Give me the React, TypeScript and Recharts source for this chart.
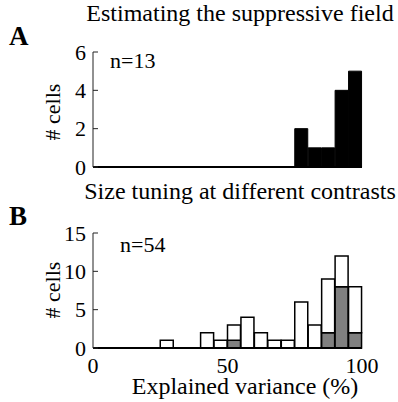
import { BarChart, Bar, XAxis, YAxis } from "recharts"

const bins = [0, 5, 10, 15, 20, 25, 30, 35, 40, 45, 50, 55, 60, 65, 70, 75, 80, 85, 90, 95]
// panel A: suppressive field fits
const countsA = [0, 0, 0, 0, 0, 0, 0, 0, 0, 0, 0, 0, 0, 0, 0, 2, 1, 1, 4, 5]
// panel B: all contrasts (total) and the gray subset
const totalB = [0, 0, 0, 0, 0, 1, 0, 0, 2, 1, 3, 4, 2, 1, 1, 6, 3, 9, 12, 8]
const grayB = [0, 0, 0, 0, 0, 0, 0, 0, 0, 0, 1, 0, 0, 0, 0, 0, 0, 2, 8, 2]
const ticksA = [0, 2, 4, 6]
const ticksB = [0, 5, 10, 15]
const ticksX = [0, 50, 100]

const dataA = bins.map((x, i) => ({ x, n: countsA[i] }))
const dataB = bins.map((x, i) => ({ x, gray: grayB[i], white: totalB[i] - grayB[i] }))

const FONT = "'Liberation Serif', 'Times New Roman', serif"

function YTick(props: any) {
  const { x, y, payload } = props
  return (
    <g>
      <line x1={x} x2={x + 5} y1={y} y2={y} stroke="#222" strokeWidth={1} />
      <text x={x - 7} y={y} textAnchor="end" dominantBaseline="central" style={{ fontFamily: FONT, fontSize: 22 }} fill="#000">
        {payload.value}
      </text>
    </g>
  )
}

function XTick(props: any) {
  const { x, y, payload } = props
  return (
    <text x={x} y={y + 9} textAnchor="middle" dominantBaseline="central" style={{ fontFamily: FONT, fontSize: 22 }} fill="#000">
      {payload.value}
    </text>
  )
}

export default function App() {
  return (
    <div style={{ position: "fixed", left: 0, top: 0, width: 398, height: 402, overflow: "hidden", background: "#fff", fontFamily: FONT }}>
      <div style={{ position: "absolute", left: 0, top: 0 }}>
        <BarChart width={398} height={180} data={dataA} margin={{ top: 52, right: 36, left: 63, bottom: 12 }}
          barCategoryGap={0} barGap={0}>
          <XAxis xAxisId="cat" dataKey="x" hide orientation="top" height={0} />
          <XAxis xAxisId="num" dataKey="x" type="number" domain={[0, 100]} ticks={ticksX} tick={false}
            tickLine={false} height={1} axisLine={{ stroke: "#000", strokeWidth: 2 }} />
          <YAxis domain={[0, 6]} ticks={ticksA} width={30} tickSize={0} tickMargin={0} tick={<YTick />}
            tickLine={false} axisLine={{ stroke: "#222", strokeWidth: 1 }} />
          <Bar xAxisId="cat" dataKey="n" fill="#000" stroke="#000" strokeWidth={1} isAnimationActive={false} />
        </BarChart>
      </div>
      <div style={{ position: "absolute", left: 0, top: 200 }}>
        <BarChart width={398} height={202} data={dataB} margin={{ top: 33, right: 36, left: 63, bottom: 24 }}
          barCategoryGap={0} barGap={0}>
          <XAxis xAxisId="cat" dataKey="x" hide orientation="top" height={0} />
          <XAxis xAxisId="num" dataKey="x" type="number" domain={[0, 100]} ticks={ticksX} tick={<XTick />}
            tickLine={false} height={30} axisLine={{ stroke: "#000", strokeWidth: 2 }} />
          <YAxis domain={[0, 15]} ticks={ticksB} width={30} tickSize={0} tickMargin={0} tick={<YTick />}
            tickLine={false} axisLine={{ stroke: "#222", strokeWidth: 1 }} />
          <Bar xAxisId="cat" dataKey="gray" stackId="s" fill="#808080" stroke="#000" strokeWidth={1.5} isAnimationActive={false} />
          <Bar xAxisId="cat" dataKey="white" stackId="s" fill="#fff" stroke="#000" strokeWidth={1.5} isAnimationActive={false} />
        </BarChart>
      </div>
      <svg width={398} height={402} style={{ position: "absolute", left: 0, top: 0, pointerEvents: "none", fontFamily: FONT }}
        fill="#000">
        <text x={9} y={45} fontSize={27} fontWeight="bold">A</text>
        <text x={9} y={225} fontSize={27} fontWeight="bold">B</text>
        <text x={240} y={21} fontSize={24} textAnchor="middle">Estimating the suppressive field</text>
        <text x={240} y={199} fontSize={24} textAnchor="middle">Size tuning at different contrasts</text>
        <text x={110} y={68} fontSize={22}>n=13</text>
        <text x={120} y={252} fontSize={22}>n=54</text>
        <text x={0} y={0} fontSize={22} textAnchor="middle" transform="translate(60,112) rotate(-90)">{"# cells"}</text>
        <text x={0} y={0} fontSize={22} textAnchor="middle" transform="translate(60,290) rotate(-90)">{"# cells"}</text>
        <text x={245} y={394} fontSize={24} textAnchor="middle">Explained variance (%)</text>
      </svg>
    </div>
  )
}
